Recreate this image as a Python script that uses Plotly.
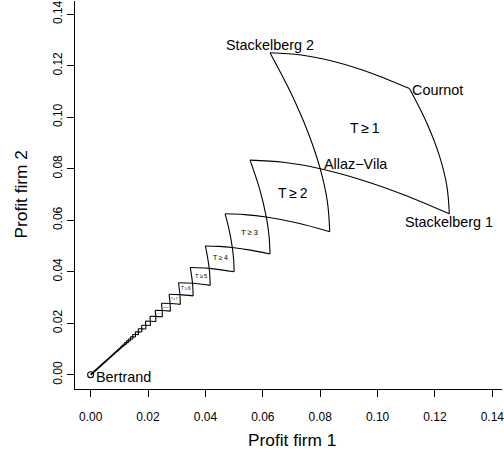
import plotly.graph_objects as go

# ---------------- data (profit firm 1, profit firm 2) ----------------
# Cournot -> Stackelberg 1 arc (its mirror is Cournot -> Stackelberg 2)
arc0_x = [0.111111, 0.117188, 0.121528, 0.124132, 0.125]
arc0_y = [0.111111, 0.097656, 0.085069, 0.073351, 0.0625]
# Stackelberg 2 -> Allaz-Vila -> corner of T>=2 (mirror drawn as well)
arc1_x = [0.0625, 0.07, 0.075833, 0.08, 0.0825, 0.083333]
arc1_y = [0.125, 0.108889, 0.093889, 0.08, 0.067222, 0.055556]
arc2_x = [0.055556, 0.0589, 0.061224, 0.062194, 0.0625]
arc2_y = [0.083333, 0.072075, 0.061224, 0.053667, 0.046875]
arc3_x = [0.046875, 0.04838, 0.049383, 0.049843, 0.05]
arc3_y = [0.0625, 0.055696, 0.049383, 0.044605, 0.04]

# smaller cells T>=4 ... : upper-left corner, diagonal point, lower-right end
chain_tl_x = [0.04, 0.034722, 0.030612, 0.027344, 0.024691, 0.0225, 0.020661, 0.019097,
              0.017751, 0.016582, 0.015556, 0.014648, 0.013841, 0.013117, 0.012465,
              0.011875, 0.011338, 0.010847, 0.010397, 0.009983, 0.0096, 0.009246]
chain_tl_y = [0.05, 0.041667, 0.035714, 0.03125, 0.027778, 0.025, 0.022727, 0.020833,
              0.019231, 0.017857, 0.016667, 0.015625, 0.014706, 0.013889, 0.013158,
              0.0125, 0.011905, 0.011364, 0.01087, 0.010417, 0.01, 0.009615]
chain_av = [0.041322, 0.035503, 0.031111, 0.027682, 0.024931, 0.022676, 0.020794, 0.0192,
            0.017833, 0.016647, 0.015609, 0.014692, 0.013878, 0.013148, 0.012492,
            0.011898, 0.011357, 0.010864, 0.010412, 0.009996, 0.009612, 0.009256]
chain_end_x = [0.041667, 0.035714, 0.03125, 0.027778, 0.025, 0.022727, 0.020833, 0.019231,
               0.017857, 0.016667, 0.015625, 0.014706, 0.013889, 0.013158, 0.0125,
               0.011905, 0.011364, 0.01087, 0.010417, 0.01, 0.009615, 0.009259]
chain_end_y = [0.034722, 0.030612, 0.027344, 0.024691, 0.0225, 0.020661, 0.019097, 0.017751,
               0.016582, 0.015556, 0.014648, 0.013841, 0.013117, 0.012465, 0.011875,
               0.011338, 0.010847, 0.010397, 0.009983, 0.0096, 0.009246, 0.008916]
tail_x = [0.009256, 0.0]
tail_y = [0.009256, 0.0]

# region labels (placed on the diagonal)
region_labels = ["T\u2009\u2265\u20091", "T\u2009\u2265\u20092", "T\u2009\u2265\u20093",
                 "T\u2009\u2265\u20094", "T\u2009\u2265\u20095", "T\u2009\u2265\u20096",
                 "T\u2009\u2265\u20097", "T\u2009\u2265\u20098", "T\u2009\u2265\u20099"]
region_pos = [0.0957, 0.0706, 0.0553, 0.04535, 0.03841, 0.03331, 0.029397, 0.026307, 0.023804]

# named outcomes
point_names = ["Stackelberg 2", "Cournot", "Allaz\u2212Vila", "Stackelberg 1", "Bertrand"]
point_x = [0.0625, 0.111111, 0.08, 0.125, 0.0]
point_y = [0.125, 0.111111, 0.08, 0.0625, 0.0]

x_ticks = [0.00, 0.02, 0.04, 0.06, 0.08, 0.10, 0.12, 0.14]
y_ticks = [0.00, 0.02, 0.04, 0.06, 0.08, 0.10, 0.12, 0.14]

# ---------------- styles ----------------
FONT = "Liberation Sans, Arial, Helvetica, sans-serif"
region_sizes = [14.0, 14.0, 8.0, 7.0, 5.8, 4.5, 3.1, 2.5, 1.7]
point_label_style = {
    "Stackelberg 2": dict(xanchor="center", yanchor="middle", xshift=0, yshift=8),
    "Cournot": dict(xanchor="left", yanchor="middle", xshift=1, yshift=-1),
    "Allaz\u2212Vila": dict(xanchor="left", yanchor="middle", xshift=2, yshift=5),
    "Stackelberg 1": dict(xanchor="center", yanchor="middle", xshift=0, yshift=-8),
    "Bertrand": dict(xanchor="left", yanchor="middle", xshift=3, yshift=-2),
}
LINE = dict(color="black", width=1.1, shape="spline")

fig = go.Figure()


def add_curve(xs, ys, line=LINE):
    fig.add_trace(go.Scatter(x=xs, y=ys, mode="lines", line=line,
                             hoverinfo="skip", showlegend=False))


for cx, cy in [(arc0_x, arc0_y), (arc1_x, arc1_y), (arc2_x, arc2_y), (arc3_x, arc3_y)]:
    add_curve(cx, cy)
    add_curve(cy, cx)  # symmetric counterpart

for i in range(len(chain_av)):
    cx = [chain_tl_x[i], chain_av[i], chain_end_x[i]]
    cy = [chain_tl_y[i], chain_av[i], chain_end_y[i]]
    add_curve(cx, cy)
    add_curve(cy, cx)

add_curve(tail_x, tail_y, line=dict(color="black", width=1.8))

# Bertrand point
fig.add_trace(go.Scatter(x=[point_x[4]], y=[point_y[4]], mode="markers",
                         marker=dict(symbol="circle-open", size=6, color="black",
                                     line=dict(width=1.1)),
                         hoverinfo="skip", showlegend=False))

annotations = []
for name, px, py in zip(point_names, point_x, point_y):
    st = point_label_style[name]
    annotations.append(dict(x=px, y=py, xref="x", yref="y", text=name, showarrow=False,
                            font=dict(family=FONT, size=14.4, color="black"), **st))
for lab, pos, sz in zip(region_labels, region_pos, region_sizes):
    annotations.append(dict(x=pos, y=pos, xref="x", yref="y", text=lab, showarrow=False,
                            font=dict(family=FONT, size=sz, color="black"),
                            xanchor="center", yanchor="middle"))

# axis titles
annotations.append(dict(x=0.07, y=0, xref="x", yref="paper", text="Profit firm 1",
                        showarrow=False, xanchor="center", yanchor="middle", yshift=-51,
                        font=dict(family=FONT, size=17.3, color="black")))
annotations.append(dict(x=0, y=0.07, xref="paper", yref="y", text="Profit firm 2",
                        showarrow=False, xanchor="center", yanchor="middle", xshift=-54,
                        textangle=-90, font=dict(family=FONT, size=17.3, color="black")))

axis_common = dict(showgrid=False, zeroline=False, showline=True, linecolor="black",
                   linewidth=1, ticks="outside", ticklen=7, tickcolor="black", tickwidth=1,
                   tickformat=".2f", ticklabeloverflow="allow",
                   tickfont=dict(family=FONT, size=12, color="black"))

fig.update_layout(
    width=504, height=457,
    margin=dict(l=75, r=0, t=0, b=68, pad=0),
    plot_bgcolor="white", paper_bgcolor="white",
    xaxis=dict(range=[-0.00545, 0.14336], tickvals=x_ticks, ticklabelstandoff=10,
               **axis_common),
    yaxis=dict(range=[-0.00553, 0.14512], tickvals=y_ticks, tickangle=-90, **axis_common),
    annotations=annotations,
    showlegend=False,
)

fig.write_html("out.html", config={"displayModeBar": False},
               post_script="document.body.style.margin='0';")
